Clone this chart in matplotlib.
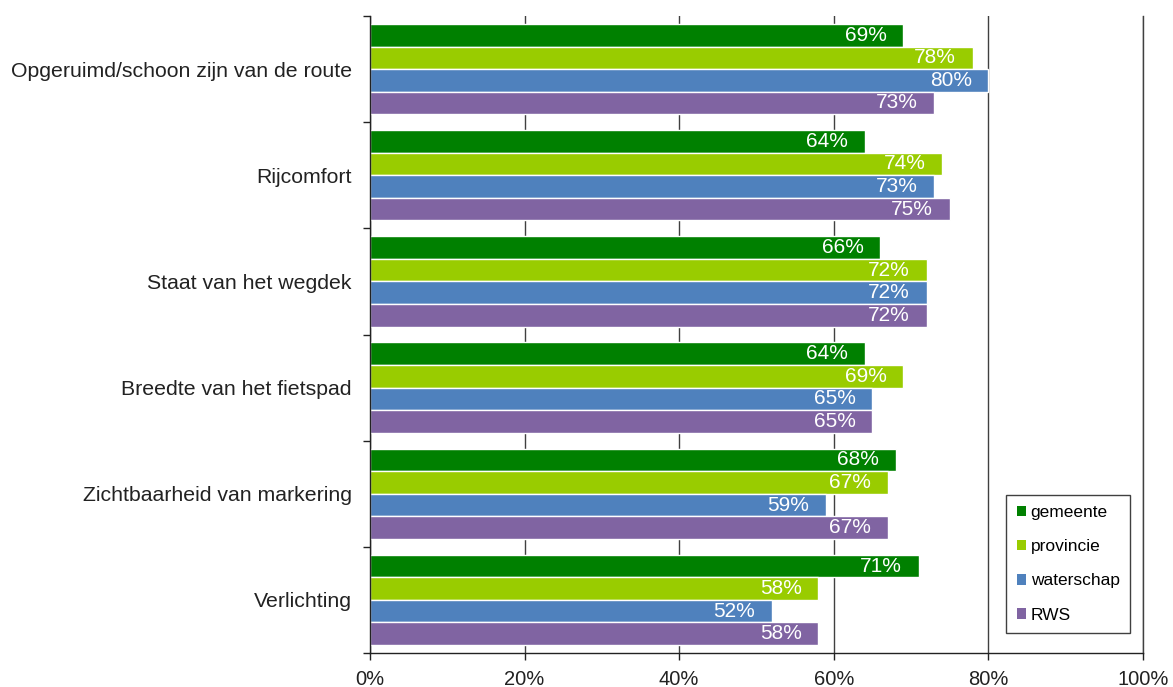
"""
Tevredenheid fietsroutes per wegbeheerder - horizontale staafgrafiek
"""

import numpy as np
from matplotlib import pyplot as plt
from matplotlib.ticker import FixedLocator, FuncFormatter

plt.rcParams['font.family'] = ['Liberation Sans', 'DejaVu Sans']

# data
categories = [
    "Opgeruimd/schoon zijn van de route",
    "Rijcomfort",
    "Staat van het wegdek",
    "Breedte van het fietspad",
    "Zichtbaarheid van markering",
    "Verlichting",
]
series = ["gemeente", "provincie", "waterschap", "RWS"]
gemeente = [69, 64, 66, 64, 68, 71]
provincie = [78, 74, 72, 69, 67, 58]
waterschap = [80, 73, 72, 65, 59, 52]
rws = [73, 75, 72, 65, 67, 58]
colors = ["#008000", "#99CC00", "#4F81BD", "#8064A2"]

values = [gemeente, provincie, waterschap, rws]

fig = plt.figure(figsize=(11.73, 6.87), dpi=100)
ax = fig.add_axes([0.3154, 0.0495, 0.9744 - 0.3154, 0.9767 - 0.0495])

y = np.arange(len(categories))
slot = 0.2125
for i, (name, vals, c) in enumerate(zip(series, values, colors)):
    pos = y + (i - 1.5) * slot
    ax.barh(pos, np.array(vals) / 100, height=slot, color=c,
            edgecolor="white", linewidth=1.0, label=name, zorder=3)
    for p, v in zip(pos, vals):
        ax.annotate(f"{v}%", xy=(v / 100, p), xytext=(-12, 0),
                    textcoords="offset points", ha="right", va="center",
                    color="white", fontsize=15, zorder=4)

ax.set_xlim(0, 1)
ax.set_ylim(len(categories) - 0.5, -0.5)

# x axis
ax.set_xticks(np.arange(0, 1.01, 0.2))
ax.xaxis.set_major_formatter(FuncFormatter(lambda v, _: f"{v * 100:.0f}%"))
ax.tick_params(axis="x", direction="out", length=5, width=1, pad=7,
               labelsize=14.5, colors="#222222")
ax.grid(axis="x", color="#404040", linewidth=1, zorder=0)
ax.axvline(1.0, color="#404040", linewidth=1, zorder=0, clip_on=False)

# y axis: labels at centers, ticks at group boundaries
ax.set_yticks(y)
ax.set_yticklabels(categories)
ax.yaxis.set_minor_locator(FixedLocator(np.arange(-0.5, len(categories), 1)))
ax.tick_params(axis="y", which="major", length=0, pad=13, labelsize=15.3,
               colors="#222222")
ax.tick_params(axis="y", which="minor", direction="out", length=5, width=1,
               color="#222222")

for s in ["top", "right"]:
    ax.spines[s].set_visible(False)
for s in ["left", "bottom"]:
    ax.spines[s].set_color("#222222")
    ax.spines[s].set_linewidth(1)
    ax.spines[s].set_zorder(5)

leg = ax.legend(loc="lower right", bbox_to_anchor=(0.9633, 0.0786),
                bbox_transform=fig.transFigure, borderaxespad=0,
                fontsize=12.5, handlelength=0.55, handleheight=0.55,
                handletextpad=0.25, labelspacing=1.1, borderpad=0.6,
                fancybox=False, framealpha=1, edgecolor="#404040")
leg.get_frame().set_linewidth(1)
for h in leg.legend_handles:
    h.set_edgecolor("none")

fig.savefig("out.png", dpi=100)
